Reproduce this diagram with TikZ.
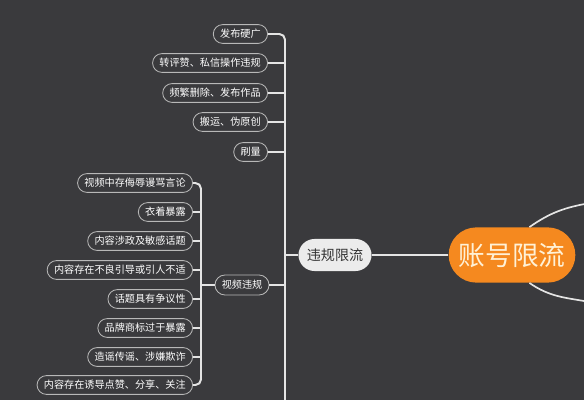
\documentclass[tikz,border=0pt]{standalone}
\usepackage{fontspec}
\setmainfont{Noto Sans CJK SC}
\usetikzlibrary{shapes.misc}
\definecolor{bgcol}{HTML}{3A3A3D}
\definecolor{linecol}{HTML}{E4E4E4}
\definecolor{leafline}{HTML}{B8B8B8}
\definecolor{orangecol}{HTML}{F5891F}
\definecolor{orangetext}{HTML}{FFF1D6}
\definecolor{branchcol}{HTML}{ECECEC}

\begin{document}
\begin{tikzpicture}[x=0.025cm, y=-0.025cm,
    leaf/.style = {draw=leafline, line width=0.6pt, fill=bgcol, rounded rectangle, text=white, font=\fontsize{7.2}{8}\selectfont, minimum height=0.47cm, inner xsep=4pt, inner ysep=0pt, anchor=east},
    branch/.style = {rounded rectangle, fill=branchcol, text=black!80, font=\fontsize{10}{12}\selectfont, minimum height=0.8cm, inner xsep=5pt},
    sub/.style = {draw=leafline, line width=0.6pt, fill=bgcol, rounded rectangle, text=white, font=\fontsize{7.2}{8}\selectfont, minimum height=0.5cm, inner xsep=4pt},
    root/.style = {rounded rectangle, fill=orangecol, text=orangetext, font=\fontsize{19}{22}\selectfont, minimum height=1.38cm, minimum width=3.4cm},
    link/.style = {draw=linecol, line width=1.4pt}]
      \fill [bgcol] (0, 0) rectangle (584, 400);
      \useasboundingbox (0, 0) rectangle (584, 400);

      % upper leaves
      \node [leaf] (t1) at (268, 34) {发布硬广};
      \node [leaf] (t2) at (268, 63) {转评赞、私信操作违规};
      \node [leaf] (t3) at (268, 93) {频繁删除、发布作品};
      \node [leaf] (t4) at (268, 122) {搬运、伪原创};
      \node [leaf] (t5) at (268, 152) {刷量};

      % video leaves
      \node [leaf] (v1) at (193, 183) {视频中存侮辱谩骂言论};
      \node [leaf] (v2) at (193, 212) {衣着暴露};
      \node [leaf] (v3) at (193, 241) {内容涉政及敏感话题};
      \node [leaf] (v4) at (193, 270) {内容存在不良引导或引人不适};
      \node [leaf] (v5) at (193, 299) {话题具有争议性};
      \node [leaf] (v6) at (193, 328) {品牌商标过于暴露};
      \node [leaf] (v7) at (193, 357) {造谣传谣、涉嫌欺诈};
      \node [leaf] (v8) at (193, 385) {内容存在诱导点赞、分享、关注};

      \node [sub] (video) at (242, 285) {视频违规};
      \node [branch] (limit) at (335, 255) {违规限流};
      \node [root] (acc) at (512, 255) {账号限流};

      \coordinate (spine) at (285, 402);
      \coordinate (vspine) at (201, 285);
      \coordinate (up) at (590, 203);
      \coordinate (down) at (590, 302);

      % connectors
      \draw [link, rounded corners=4pt] (t1.east) -| (spine);
      \foreach \n in {t2, t3, t4, t5, video.east, limit.west} {
        \draw [link] (\n) -- (\n -| spine);
      }
      \draw [link, rounded corners=4pt] (v1.east) -| (vspine) |- (v8.east);
      \foreach \n in {v2, v3, v4, v5, v6, v7} {
        \draw [link] (\n.east) -- (\n.east -| vspine);
      }
      \draw [link] (video.west) -- (vspine);
      \draw [link] (limit.east) -- (acc.west);
      \draw [link, line width=1.2pt] (acc.58) to [out=35, in=190] (up);
      \draw [link, line width=1.2pt] (acc.-58) to [out=-35, in=170] (down);
    \end{tikzpicture}
\end{document}
